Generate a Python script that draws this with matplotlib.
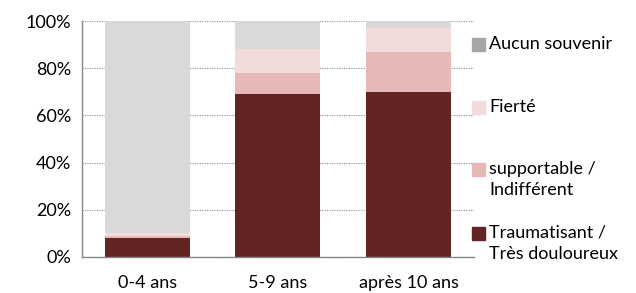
import numpy as np
import matplotlib.pyplot as plt
from matplotlib.patches import Rectangle

plt.rcParams['font.family'] = ['Lato', 'DejaVu Sans']

# Data (percent)
categories = ['0-4 ans', '5-9 ans', 'après 10 ans']
traumatisant = [8, 69, 70]
supportable = [1, 9, 17]
fierte = [1, 10, 10]
aucun = [90, 12, 3]

series = [traumatisant, supportable, fierte, aucun]
labels = ['Traumatisant /\nTrès douloureux', 'supportable /\nIndifférent', 'Fierté', 'Aucun souvenir']
colors = ['#632523', '#e6b9b8', '#f2dcdb', '#d9d9d9']
legend_colors = ['#632523', '#e6b9b8', '#f2dcdb', '#a6a6a6']

fig = plt.figure(figsize=(6.36, 2.93), dpi=100)
ax = fig.add_axes([0.129, 0.123, 0.616, 0.805])

x = np.arange(len(categories))
bottom = np.zeros(len(categories))
for vals, col in zip(series, colors):
    ax.bar(x, vals, width=0.65, bottom=bottom, color=col, zorder=2)
    bottom += np.array(vals)

ax.set_xlim(-0.5, 2.5)
ax.set_ylim(0, 100)
ax.set_yticks(range(0, 101, 20))
ax.set_yticklabels([f'{v}%' for v in range(0, 101, 20)])
ax.set_xticks(x)
ax.set_xticklabels(categories)
ax.tick_params(axis='both', length=0, labelsize=13, colors='black')
ax.tick_params(axis='x', pad=13)
ax.tick_params(axis='y', pad=8)
ax.yaxis.grid(True, linestyle=(0, (1, 1.2)), color='#8c8c8c', linewidth=0.8, zorder=0)
ax.set_axisbelow(True)
for s in ['top', 'right']:
    ax.spines[s].set_visible(False)
for s in ['left', 'bottom']:
    ax.spines[s].set_color('#868686')
    ax.spines[s].set_linewidth(1)

# legend, drawn like the Excel one: marker aligned on first text line
W, H = 636, 293
legend_y = [233, 169, 107, 44]  # pixel rows of first line, bottom-up series order
for lab, col, py in zip(labels, legend_colors, legend_y):
    fig.add_artist(Rectangle((472 / W, 1 - (py + 6.5) / H), 13 / W, 13 / H,
                             transform=fig.transFigure, color=col))
    fig.text(489 / W, 1 - (py - 8) / H, lab, fontsize=13, va='top',
             ha='left', linespacing=1.4, transform=fig.transFigure)

fig.savefig('out.png', dpi=100)
